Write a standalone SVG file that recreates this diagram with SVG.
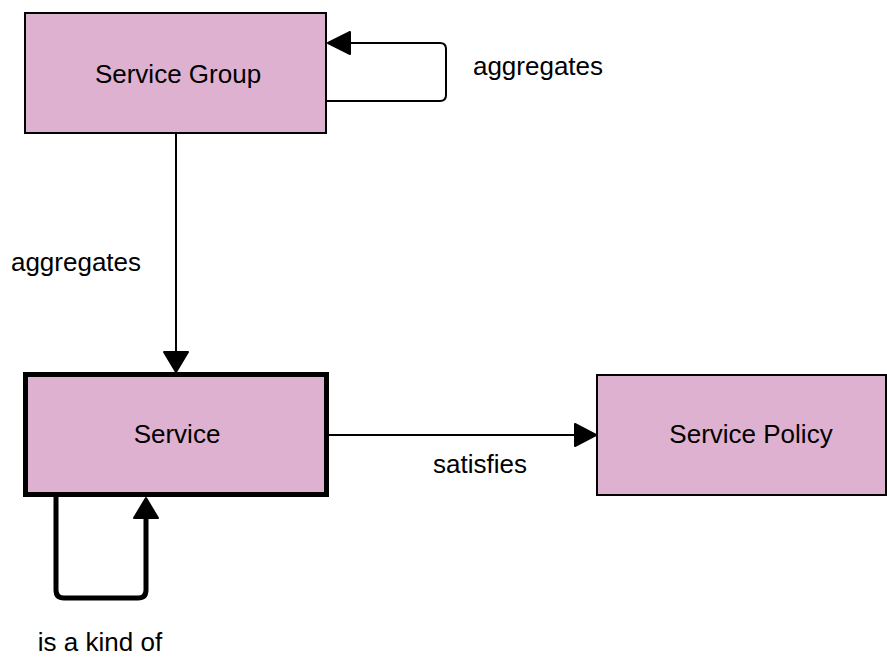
<svg xmlns="http://www.w3.org/2000/svg" width="887" height="657" viewBox="0 0 887 657">
  <style>
    .node { fill: #dfb1d0; stroke: #000; stroke-width: 2; }
    .node.main { stroke-width: 5; }
    .label { font-family: "Liberation Sans", Arial, sans-serif; font-size: 26px; fill: #000; }
    .mid { text-anchor: middle; }
    .edge { fill: none; stroke: #000; stroke-width: 2; }
    .edge.bold { stroke-width: 5; }
    .head { fill: #000; stroke: #000; stroke-width: 2; stroke-linejoin: round; }
  </style>
  <rect width="887" height="657" fill="#fff"/>

  <g id="connectors">
    <!-- Service Group aggregates Service Group -->
    <path class="edge" d="M327,101 H440 Q446,101 446,95 V49 Q446,43 440,43 H349"/>
    <polygon class="head" points="328,43 350,32 350,54"/>
    <!-- Service Group aggregates Service -->
    <path class="edge" d="M176,134 V352"/>
    <polygon class="head" points="176,372 164,352 188,352"/>
    <!-- Service satisfies Service Policy -->
    <path class="edge" d="M329,435 H575"/>
    <polygon class="head" points="596,435 575,424 575,446"/>
    <!-- Service is a kind of Service -->
    <path class="edge bold" d="M56,497 V590 Q56,598 64,598 H138 Q146,598 146,590 V518"/>
    <polygon class="head" points="146,498 134,518 158,518"/>
    <text class="label mid" x="76" y="271">aggregates</text>
    <text class="label mid" x="538" y="75">aggregates</text>
    <text class="label mid" x="480" y="473">satisfies</text>
    <text class="label mid" x="100" y="651">is a kind of</text>
  </g>

  <g id="service-group">
    <rect class="node" x="25" y="13" width="301" height="120"/>
    <text class="label mid" x="178" y="83">Service Group</text>
  </g>

  <g id="service">
    <rect class="node main" x="25.5" y="374.5" width="301" height="120"/>
    <text class="label mid" x="177" y="443">Service</text>
  </g>

  <g id="service-policy">
    <rect class="node" x="597" y="375" width="289" height="120"/>
    <text class="label mid" x="751" y="443">Service Policy</text>
  </g>
</svg>
